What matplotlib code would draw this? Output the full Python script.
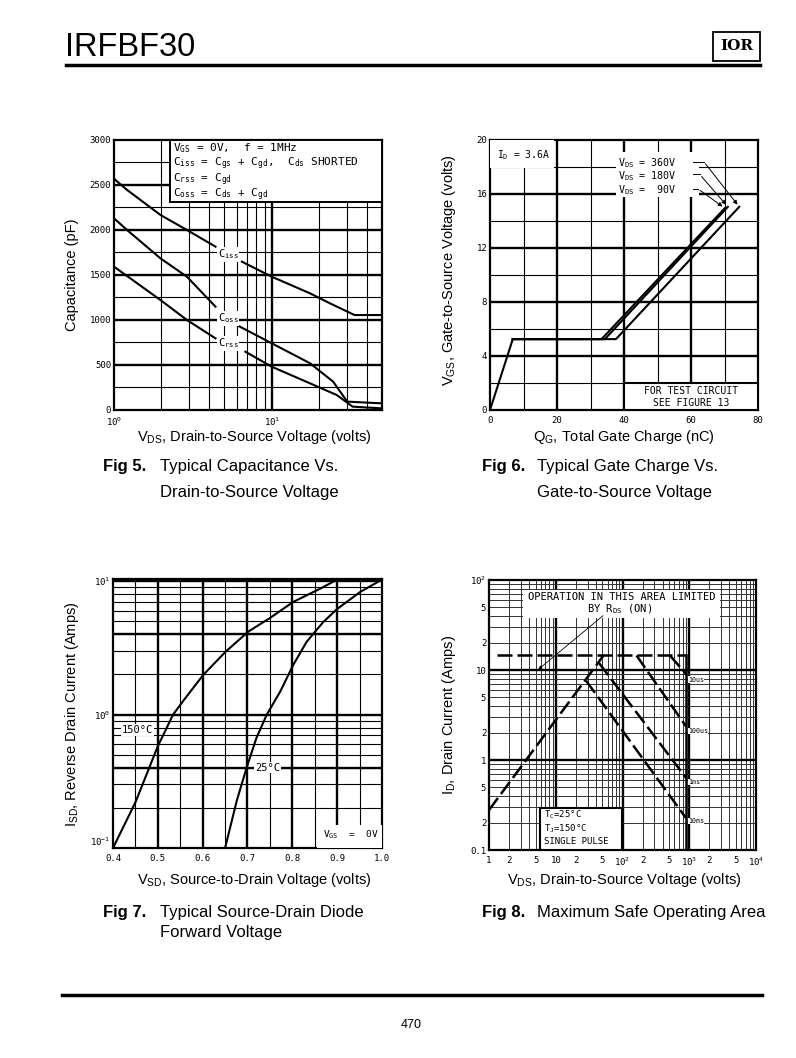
import matplotlib
matplotlib.use('Agg')
import matplotlib.pyplot as plt
from matplotlib.patches import Rectangle

# ---- Fig 5: capacitance vs drain-to-source voltage (curves split around labels)
vds_iss_lo = [1, 1.2, 1.97, 2.9, 4.4]
ciss_lo = [2570, 2450, 2167, 2000, 1815]
vds_iss_hi = [6.47, 10, 17.5, 23.4, 33.5, 50]
ciss_hi = [1648, 1481, 1296, 1185, 1055, 1055]
vds_oss_lo = [1, 1.21, 1.97, 2.9, 4.4]
coss_lo = [2130, 2000, 1685, 1481, 1148]
vds_oss_hi = [6.0, 10, 17.5, 24.5, 30.1, 50]
coss_hi = [944, 741, 519, 315, 93, 74]
vds_rss_lo = [1, 1.97, 2.9, 4.4]
crss_lo = [1593, 1222, 1000, 796]
vds_rss_hi = [6.8, 10, 17.5, 25.8, 32.6, 50]
crss_hi = [648, 481, 296, 167, 37, 18]

# ---- Fig 6: gate charge
qg_ramp = [0, 6.8]
vgs_ramp = [0, 5.25]
qg_90 = [6.8, 33.3, 70.1]
vgs_90 = [5.25, 5.25, 14.95]
qg_180 = [6.8, 34.3, 71.0]
vgs_180 = [5.25, 5.25, 15.05]
qg_360 = [6.8, 37.6, 74.4]
vgs_360 = [5.25, 5.25, 15.05]

# ---- Fig 7: source-drain diode forward voltage
vsd_150 = [0.4, 0.45, 0.5, 0.534, 0.556, 0.601, 0.651, 0.702, 0.75, 0.802, 0.862, 0.9]
isd_150 = [0.1, 0.22, 0.58, 1.0, 1.26, 1.98, 2.96, 4.2, 5.3, 7.0, 8.8, 10.3]
vsd_25 = [0.65, 0.676, 0.698, 0.72, 0.743, 0.773, 0.802, 0.832, 0.869, 0.9, 0.951, 1.0]
isd_25 = [0.1, 0.226, 0.4, 0.67, 1.0, 1.49, 2.36, 3.52, 4.95, 6.2, 8.3, 10.3]

# ---- Fig 8: safe operating area
v_rds = [1, 52]
i_rds = [0.278, 14.5]
v_imax = [1.3, 900]
i_imax = [14.5, 14.5]
v_10us = [513, 900]
i_10us = [14.5, 9.0]
v_100us = [162, 900]
i_100us = [14.5, 2.35]
v_1ms = [44.7, 900]
i_1ms = [11.9, 0.63]
v_10ms = [28.5, 900]
i_10ms = [7.6, 0.225]
v_vdss = [900, 900]
i_vdss = [0.1, 14.5]

W, H = 796, 1058
fig = plt.figure(figsize=(W / 100, H / 100), dpi=100)
plt.rcParams['font.family'] = ['Liberation Sans', 'DejaVu Sans']
MONO = 'DejaVu Sans Mono'


def px_axes(l, t, r, b):
    return fig.add_axes([l / W, 1 - b / H, (r - l) / W, (b - t) / H])


def ftext(x, y, s, **kw):
    fig.text(x / W, 1 - y / H, s, **kw)


def style(ax):
    for sp in ax.spines.values():
        sp.set_linewidth(1.6)
    ax.tick_params(length=0, pad=2, labelsize=6.5)
    ax.tick_params(axis='x', pad=4)
    for lab in ax.get_xticklabels() + ax.get_yticklabels():
        lab.set_family(MONO)


def grid(ax, xs_thick, xs_thin, ys_thick, ys_thin, thin_col='black', thin_lw=0.8):
    for x in xs_thick:
        ax.axvline(x, color='black', lw=1.7, zorder=1)
    for x in xs_thin:
        ax.axvline(x, color=thin_col, lw=thin_lw, zorder=1)
    for y in ys_thick:
        ax.axhline(y, color='black', lw=1.7, zorder=1)
    for y in ys_thin:
        ax.axhline(y, color=thin_col, lw=thin_lw, zorder=1)


# ================= Fig 5 =================
ax5 = px_axes(114, 140, 382, 410)
ax5.set_xscale('log')
ax5.set_xlim(1, 50)
ax5.set_ylim(0, 3000)
grid(ax5, [10], [2, 3, 4, 5, 6, 7, 8, 9, 20, 30, 40],
     [500, 1000, 1500, 2000, 2500], [250, 750, 1250, 1750, 2250, 2750])
ax5.set_xticks([1, 10])
ax5.set_xticklabels([r'$\mathregular{10^0}$', r'$\mathregular{10^1}$'])
ax5.set_xticks([], minor=True)
ax5.set_yticks([0, 500, 1000, 1500, 2000, 2500, 3000])
style(ax5)
ck = dict(color='black', lw=1.5, zorder=4)
ax5.plot(vds_iss_lo, ciss_lo, **ck)
ax5.plot(vds_iss_hi, ciss_hi, **ck)
ax5.plot(vds_oss_lo, coss_lo, **ck)
ax5.plot(vds_oss_hi, coss_hi, **ck)
ax5.plot(vds_rss_lo, crss_lo, **ck)
ax5.plot(vds_rss_hi, crss_hi, **ck)
lab_kw = dict(family=MONO, fontsize=7.5, ha='center', va='center', zorder=5,
              bbox=dict(fc='white', ec='none', pad=0.5))
ax5.text(5.3, 1730, r'$\mathregular{C_{iss}}$', **lab_kw)
ax5.text(5.3, 1020, r'$\mathregular{C_{oss}}$', **lab_kw)
ax5.text(5.3, 740, r'$\mathregular{C_{rss}}$', **lab_kw)
ax5.add_patch(Rectangle((2.28, 2315), 50 - 2.28, 685, fc='white', ec='black', lw=1.4, zorder=3))
leg = [r'$\mathregular{V_{GS}}$ = 0V,  f = 1MHz',
       r'$\mathregular{C_{iss}}$ = $\mathregular{C_{gs}}$ + $\mathregular{C_{gd}}$,  $\mathregular{C_{ds}}$ SHORTED',
       r'$\mathregular{C_{rss}}$ = $\mathregular{C_{gd}}$',
       r'$\mathregular{C_{oss}}$ = $\mathregular{C_{ds}}$ + $\mathregular{C_{gd}}$']
for k, s in enumerate(leg):
    ax5.text(2.38, 2905 - k * 172, s, family=MONO, fontsize=8, va='center', zorder=5)

# ================= Fig 6 =================
ax6 = px_axes(490, 140, 758, 410)
ax6.set_xlim(0, 80)
ax6.set_ylim(0, 20)
grid(ax6, [20, 40, 60], [10, 30, 50, 70], [4, 8, 12, 16], [2, 6, 10, 14, 18])
ax6.set_xticks([0, 20, 40, 60, 80])
ax6.set_yticks([0, 4, 8, 12, 16, 20])
style(ax6)
ax6.plot(qg_ramp, vgs_ramp, **ck)
ax6.plot(qg_90, vgs_90, **ck)
ax6.plot(qg_180, vgs_180, **ck)
ax6.plot(qg_360, vgs_360, **ck)
ax6.add_patch(Rectangle((0, 17.9), 19, 2.1, fc='white', ec='none', zorder=3))
ax6.text(2, 18.9, r'$\mathregular{I_D}$ = 3.6A', family=MONO, fontsize=7, va='center', zorder=5)
ax6.add_patch(Rectangle((37.5, 15.8), 25, 3.3, fc='white', ec='none', zorder=3))
vds_lab = ['360V', '180V', ' 90V']
lab_y = [18.3, 17.35, 16.3]
ends = [(74.4, 15.05), (71.0, 15.05), (70.1, 14.95)]
elbow = [63.8, 62.6, 62.0]
for s, y, (ex, ey), el in zip(vds_lab, lab_y, ends, elbow):
    ax6.text(38.3, y, r'$\mathregular{V_{DS}}$ = ' + s, family=MONO, fontsize=7.2, va='center', zorder=5)
    ax6.plot([60.6, el], [y + 0.1, y + 0.1], color='black', lw=0.7, zorder=5)
    ax6.annotate('', xy=(ex, ey), xytext=(el, y + 0.1),
                 arrowprops=dict(arrowstyle='-|>', lw=0.7, color='black', mutation_scale=6), zorder=5)
ax6.add_patch(Rectangle((40, 0), 40, 2, fc='white', ec='black', lw=1.5, zorder=3))
ax6.text(60, 1.4, 'FOR TEST CIRCUIT', family=MONO, fontsize=7, ha='center', va='center', zorder=5)
ax6.text(60, 0.55, 'SEE FIGURE 13', family=MONO, fontsize=7, ha='center', va='center', zorder=5)

# ================= Fig 7 =================
ax7 = px_axes(113, 579, 382, 848)
ax7.set_yscale('log')
ax7.set_xlim(0.4, 1.0)
ax7.set_ylim(0.1, 10.4)
minors = [m * d for d in (0.1, 1) for m in range(2, 10)]
grid(ax7, [0.5, 0.6, 0.7, 0.8, 0.9], [0.45, 0.55, 0.65, 0.75, 0.85, 0.95],
     [1, 10, 0.4, 4], minors)
ax7.set_xticks([0.4, 0.5, 0.6, 0.7, 0.8, 0.9, 1.0])
ax7.set_xticklabels(['0.4', '0.5', '0.6', '0.7', '0.8', '0.9', '1.0'])
ax7.set_yticks([0.1, 1, 10])
ax7.set_yticklabels([r'$\mathregular{10^{-1}}$', r'$\mathregular{10^0}$', r'$\mathregular{10^1}$'])
ax7.set_yticks([], minor=True)
style(ax7)
ax7.get_yticklabels()[0].set_va('bottom')
ax7.plot(vsd_150, isd_150, **ck)
ax7.plot(vsd_25, isd_25, **ck)
ax7.text(0.455, 0.77, u'150\u00b0C', **lab_kw)
ax7.text(0.745, 0.4, u'25\u00b0C', **lab_kw)
ax7.add_patch(Rectangle((0.855, 0.1), 0.145, 0.05, fc='white', ec='none', zorder=3))
ax7.text(0.93, 0.125, r'$\mathregular{V_{GS}}$  =  0V', family=MONO, fontsize=6.8,
         ha='center', va='center', zorder=5)

# ================= Fig 8 =================
ax8 = px_axes(489, 580, 756, 850)
ax8.set_xscale('log')
ax8.set_yscale('log')
ax8.set_xlim(1, 1e4)
ax8.set_ylim(0.1, 100)
xmin8 = [m * d for d in (1, 10, 100, 1000) for m in range(2, 10)]
ymin8 = [m * d for d in (0.1, 1, 10) for m in range(2, 10)]
grid(ax8, [10, 100, 1000], xmin8, [1, 10], ymin8, thin_col='#333333', thin_lw=0.7)
ax8.set_xticks([1, 2, 5, 10, 20, 50, 100, 200, 500, 1000, 2000, 5000, 10000])
ax8.set_xticklabels(['1', '2', '5', '10', '2', '5', r'$\mathregular{10^2}$', '2', '5',
                     r'$\mathregular{10^3}$', '2', '5', r'$\mathregular{10^4}$'])
ax8.set_xticks([], minor=True)
ax8.set_yticks([0.1, 0.2, 0.5, 1, 2, 5, 10, 20, 50, 100])
ax8.set_yticklabels(['0.1', '2', '5', '1', '2', '5', '10', '2', '5', r'$\mathregular{10^2}$'])
ax8.set_yticks([], minor=True)
style(ax8)
dk = dict(color='black', lw=1.8, zorder=4, dashes=(6, 2))
ax8.plot(v_rds, i_rds, **dk)
ax8.plot(v_imax, i_imax, **dk)
ax8.plot(v_10us, i_10us, **dk)
ax8.plot(v_100us, i_100us, **dk)
ax8.plot(v_1ms, i_1ms, **dk)
ax8.plot(v_10ms, i_10ms, **dk)
ax8.plot(v_vdss, i_vdss, color='black', lw=1.8, zorder=4)
tk = dict(family=MONO, fontsize=4.8, va='center', ha='left', zorder=5,
          bbox=dict(fc='white', ec='none', pad=0.3))
ax8.text(960, 7.8, '10us', **tk)
ax8.text(960, 2.1, '100us', **tk)
ax8.text(960, 0.57, '1ms', **tk)
ax8.text(960, 0.21, '10ms', **tk)
ax8.add_patch(Rectangle((3.24, 37.5), 2884 - 3.24, 40, fc='white', ec='none', zorder=3))
ax8.text(96, 65, 'OPERATION IN THIS AREA LIMITED', family=MONO, fontsize=7.5,
         ha='center', va='center', zorder=5)
ax8.text(91, 47, r'BY $\mathregular{R_{DS}}$ (ON)', family=MONO, fontsize=7.5,
         ha='center', va='center', zorder=5)
ax8.annotate('', xy=(5.1, 9.7), xytext=(55, 42),
             arrowprops=dict(arrowstyle='-|>', lw=0.6, color='black', mutation_scale=5), zorder=5)
ax8.add_patch(Rectangle((5.75, 0.1), 97.7 - 5.75, 0.19, fc='white', ec='black', lw=1.5, zorder=3))
tc_kw = dict(family=MONO, fontsize=6.5, va='center', zorder=5)
ax8.text(6.6, 0.245, u'$\\mathregular{T_C}$=25\u00b0C', **tc_kw)
ax8.text(6.6, 0.171, u'$\\mathregular{T_J}$=150\u00b0C', **tc_kw)
ax8.text(6.6, 0.124, 'SINGLE PULSE', **tc_kw)

# ================= page furniture =================
ftext(65, 47, 'IRFBF30', fontsize=23.5, va='center', ha='left')
fig.add_artist(plt.Line2D([66 / W, 760 / W], [1 - 65 / H, 1 - 65 / H], color='black', lw=2.5))
fig.add_artist(Rectangle((713 / W, 1 - 61 / H), 47 / W, 29 / H, transform=fig.transFigure,
                         fc='white', ec='black', lw=1.3))
ftext(736.5, 46, 'IOR', family='DejaVu Serif', fontweight='bold', fontsize=11, ha='center', va='center')
fig.add_artist(plt.Line2D([62 / W, 762 / W], [1 - 995 / H, 1 - 995 / H], color='black', lw=2.5))
ftext(411, 1025, '470', fontsize=9, ha='center', va='center')

lab = dict(fontsize=10.5, ha='center', va='center')
ftext(254, 437, r'$\mathregular{V_{DS}}$, Drain-to-Source Voltage (volts)', **lab)
ftext(72, 275, 'Capacitance (pF)', rotation=90, **lab)
ftext(624, 437, r'$\mathregular{Q_G}$, Total Gate Charge (nC)', **lab)
ftext(449, 270, r'$\mathregular{V_{GS}}$, Gate-to-Source Voltage (volts)', rotation=90, **lab)
ftext(254, 880, r'$\mathregular{V_{SD}}$, Source-to-Drain Voltage (volts)', **lab)
ftext(72, 714, r'$\mathregular{I_{SD}}$, Reverse Drain Current (Amps)', rotation=90, **lab)
ftext(624, 880, r'$\mathregular{V_{DS}}$, Drain-to-Source Voltage (volts)', **lab)
ftext(449, 715, r'$\mathregular{I_D}$, Drain Current (Amps)', rotation=90, **lab)

cap = dict(fontsize=12, va='center', ha='left')
ftext(103, 467, 'Fig 5.', fontweight='bold', **cap)
ftext(160, 467, 'Typical Capacitance Vs.', **cap)
ftext(160, 493, 'Drain-to-Source Voltage', **cap)
ftext(482, 467, 'Fig 6.', fontweight='bold', **cap)
ftext(537, 467, 'Typical Gate Charge Vs.', **cap)
ftext(537, 493, 'Gate-to-Source Voltage', **cap)
ftext(103, 913, 'Fig 7.', fontweight='bold', **cap)
ftext(160, 913, 'Typical Source-Drain Diode', **cap)
ftext(160, 933, 'Forward Voltage', **cap)
ftext(482, 913, 'Fig 8.', fontweight='bold', **cap)
ftext(537, 913, 'Maximum Safe Operating Area', **cap)

fig.savefig('out.png', dpi=100, facecolor='white')
